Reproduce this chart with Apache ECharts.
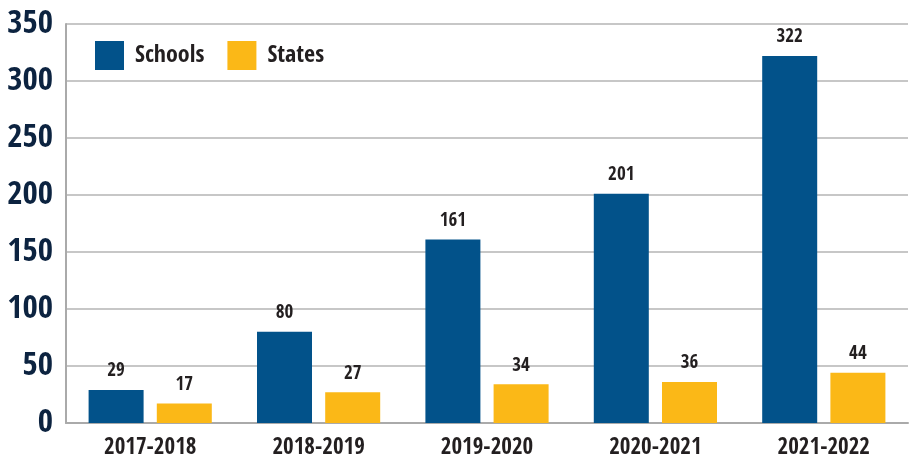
<!DOCTYPE html>
<html>
<head>
<meta charset="utf-8">
<script src="https://cdn.jsdelivr.net/npm/echarts@6/dist/echarts.min.js"></script>
<style>
  html, body { margin: 0; padding: 0; background: #fff; }
  #chart { width: 909px; height: 460px; }
</style>
</head>
<body>
<div id="chart"></div>
<script>
// data
const years = ['2017-2018', '2018-2019', '2019-2020', '2020-2021', '2021-2022']
const schools = [29, 80, 161, 201, 322]
const states = [17, 27, 34, 36, 44]

const font = '"Open Sans Condensed", "Roboto Condensed", sans-serif'

const chart = echarts.init(document.getElementById('chart'))
chart.setOption({
    animation: false,
    grid: { left: 66, right: 1, top: 24, bottom: 37, outerBoundsMode: 'none', containLabel: false },
    legend: {
        left: 90,
        top: 36,
        icon: 'rect',
        itemWidth: 29,
        itemHeight: 29,
        itemGap: 23,
        textStyle: {
            fontFamily: font,
            fontSize: 24,
            color: '#231f20',
            padding: [4, 0, 0, 6]
        },
        data: ['Schools', 'States']
    },
    xAxis: {
        type: 'category',
        data: years,
        axisLine: { lineStyle: { color: '#aaaaaa', width: 2 } },
        axisTick: { show: false },
        axisLabel: {
            fontFamily: font,
            fontSize: 23,
            color: '#231f20',
            margin: 13
        }
    },
    yAxis: {
        type: 'value',
        min: 0,
        max: 350,
        interval: 50,
        axisLine: { show: true, lineStyle: { color: '#aaaaaa', width: 2 } },
        splitLine: { lineStyle: { color: '#b4b4b4', width: 1.5 } },
        axisLabel: {
            fontFamily: font,
            fontSize: 33,
            fontWeight: 'bold',
            color: '#0c2340',
            margin: 13
        }
    },
    series: [
        {
            name: 'Schools',
            type: 'bar',
            data: schools,
            barWidth: 55,
            barGap: '24%',
            itemStyle: { color: '#02528a' },
            label: {
                show: true,
                position: 'top',
                distance: 9,
                fontFamily: font,
                fontSize: 19,
                fontWeight: 'bold',
                color: '#231f20'
            }
        },
        {
            name: 'States',
            type: 'bar',
            data: states,
            barWidth: 55,
            itemStyle: { color: '#fbb817' },
            label: {
                show: true,
                position: 'top',
                distance: 9,
                fontFamily: font,
                fontSize: 19,
                fontWeight: 'bold',
                color: '#231f20'
            }
        }
    ]
})
</script>
</body>
</html>
